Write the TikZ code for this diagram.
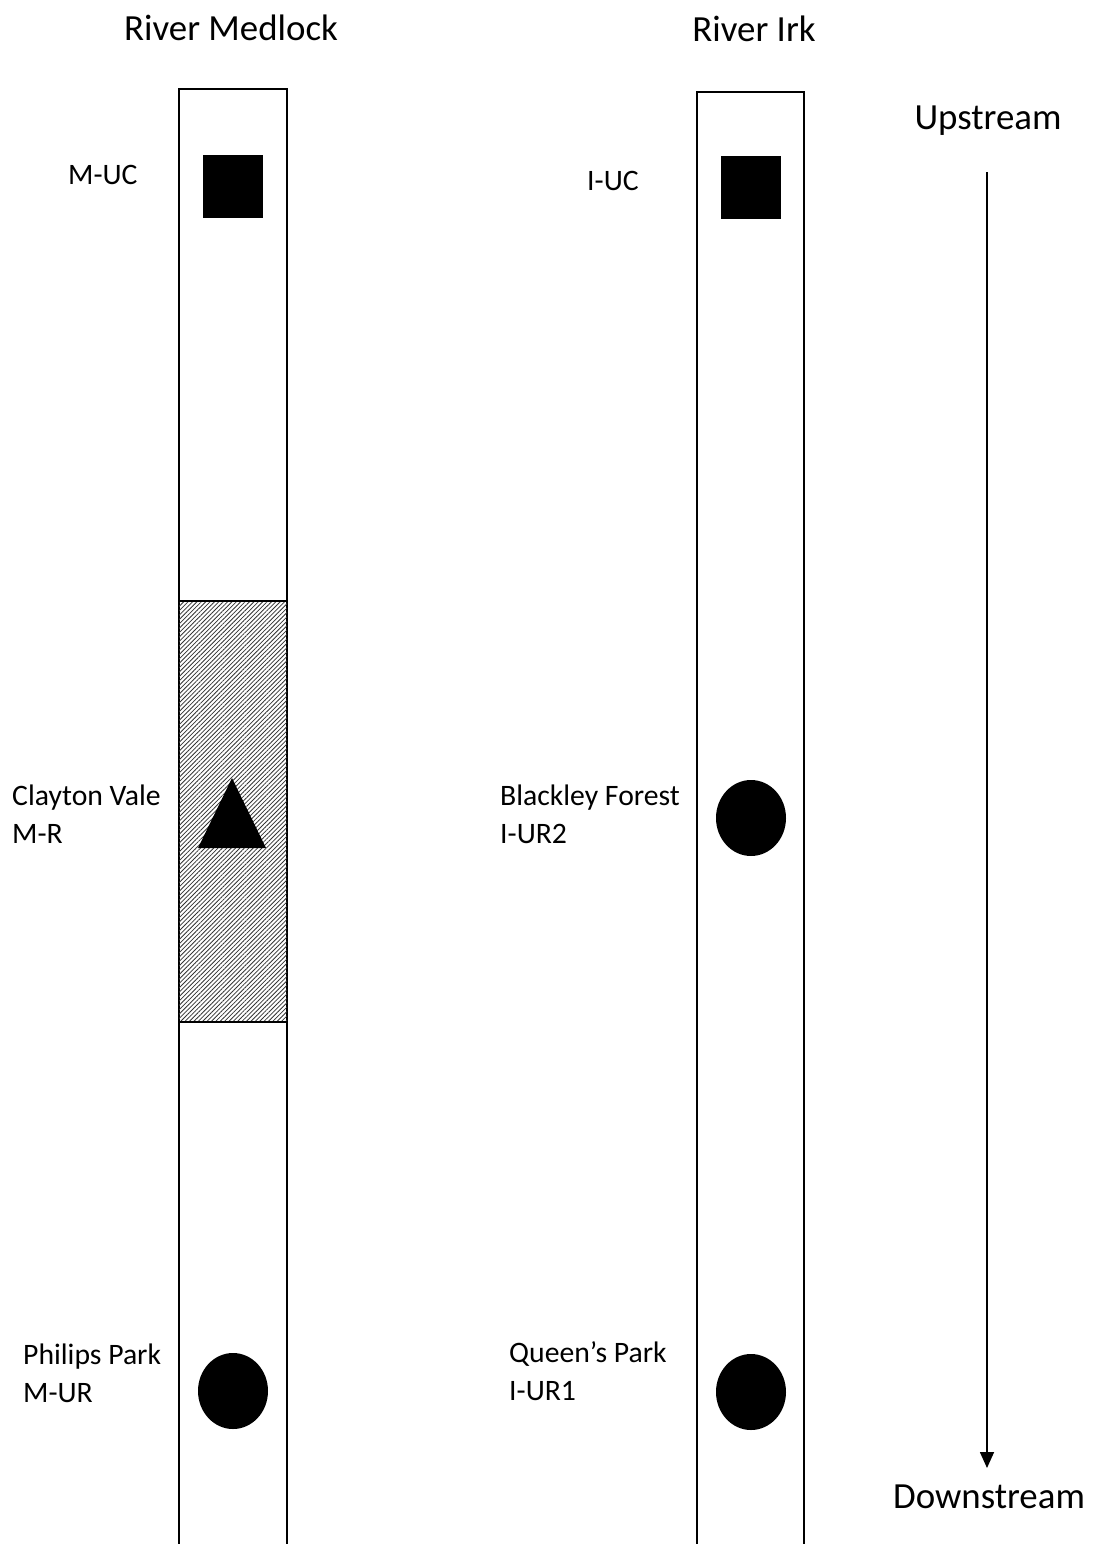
\documentclass[tikz,border=0pt]{standalone}
\usepackage{fontspec}
\setmainfont{Carlito}
\usetikzlibrary{patterns.meta,arrows.meta}
\begin{document}
\begin{tikzpicture}[x=1bp,y=-1bp,
  strip/.style={draw=black,line width=1.6bp},
  marker/.style={fill=black,draw=none},
  title/.style={font=\fontsize{37}{44}\selectfont,inner sep=0pt},
  lab/.style={font=\fontsize{29.8}{38}\selectfont,inner sep=0pt,align=left,anchor=west}]
\useasboundingbox (0,0) rectangle (1096,1544);
% strips
\draw[strip] (179,1546) -- (179,89) -- (287,89) -- (287,1546);
\draw[strip] (697,1546) -- (697,92) -- (804,92) -- (804,1546);
% hatched reach
\path[pattern={Lines[angle=45,distance=3.1bp,line width=0.8bp]},pattern color=black!80] (179,601) rectangle (287,1022);
\draw[strip] (179,601) -- (287,601) (179,1022) -- (287,1022);
% markers
\fill[marker] (203,155) rectangle (263,218);
\fill[marker] (721,156) rectangle (781,219);
\fill[marker] (232,778) -- (266,848) -- (198,848) -- cycle;
\fill[marker] (233,1391) ellipse [x radius=35, y radius=38];
\fill[marker] (751,818) ellipse [x radius=35, y radius=38];
\fill[marker] (751,1392) ellipse [x radius=35, y radius=38];
% titles
\node[title] (tm) at (231,28) {River Medlock};
\node[title] (ti) at (754,29) {River Irk};
\node[title] (up) at (988,121) {Upstream};
\node[title] (down) at (989,1497) {Downstream};
\coordinate (a1) at (987,172);
\coordinate (a2) at (987,1468);
\draw[line width=1.6bp,-{Triangle[width=14bp,length=16bp]}] (a1) -- (a2);
% labels
\node[lab] (muc) at (68,175) {M-UC};
\node[lab] (iuc) at (587,181) {I-UC};
\node[lab] (mr) at (12,814) {Clayton Vale\\M-R};
\node[lab] (mur) at (23,1373) {Philips Park\\M-UR};
\node[lab] (iur2) at (500,814) {Blackley Forest\\I-UR2};
\node[lab] (iur1) at (509,1371) {Queen’s Park\\I-UR1};
\end{tikzpicture}
\end{document}
